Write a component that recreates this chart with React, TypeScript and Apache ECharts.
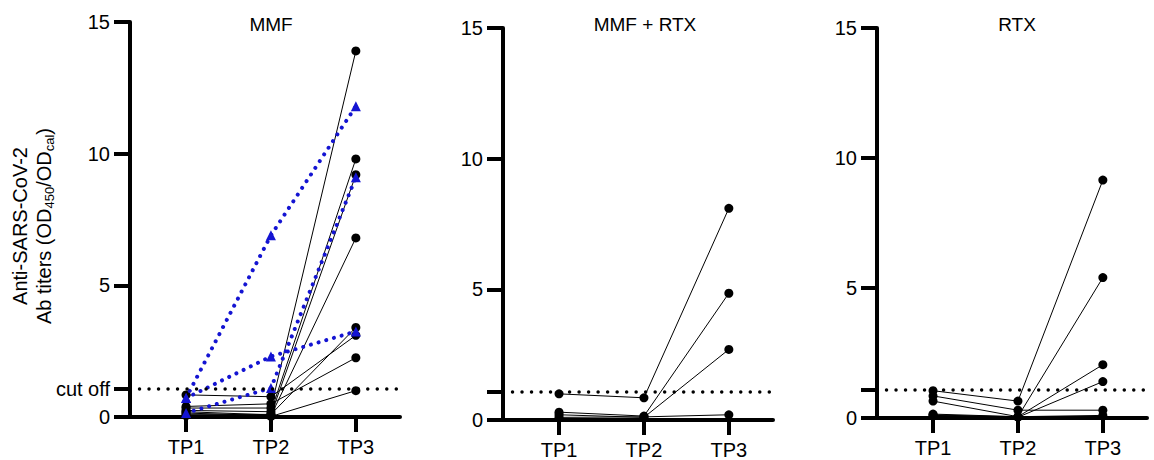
import React, { useEffect, useRef } from "react";
import * as echarts from "echarts";

// ---- data ----
const categories = ["TP1", "TP2", "TP3"];
const panelTitles = ["MMF", "MMF + RTX", "RTX"];
const cutoff = 1.07;
const cutoffLabel = "cut off";
const yTickValues = [0, 5, 10, 15];
const yNameLine1 = "Anti-SARS-CoV-2";
const yNameLine2 = ["Ab titers (OD", "450", "/OD", "cal", ")"];

// MMF panel: black subjects
const mmfBlack = [
  [0.84, 0.77, 3.1],
  [0.4, 0.5, 2.25],
  [0.34, 0.34, 13.9],
  [0.25, 0.2, 9.8],
  [0.2, 0.08, 9.2],
  [0.15, 0.05, 6.8],
  [0.1, 0.1, 3.4],
  [0.05, 0.02, 1.0],
];
// MMF panel: blue (dotted, triangles) subjects
const mmfBlue = [
  [0.72, 6.9, 11.8],
  [0.72, 2.3, 3.25],
  [0.15, 1.1, 9.1],
];
// MMF + RTX panel
const mmfRtx = [
  [1.0, 0.85, 8.1],
  [0.3, 0.15, 4.85],
  [0.2, 0.1, 2.7],
  [0.1, 0.12, 0.2],
];
// RTX panel
const rtx = [
  [1.05, 0.65, 9.15],
  [0.85, 0.3, 0.3],
  [0.65, 0.05, 5.4],
  [0.15, 0.05, 2.05],
  [0.12, 0.03, 1.4],
  [0.1, 0.05, 0.1],
];

const FONT = "Liberation Sans, Arial, sans-serif";
const BLUE = "#1414d2";

const grids = [
  { left: 130, top: 22, width: 270, height: 395 },
  { left: 503, top: 28, width: 270, height: 392 },
  { left: 877, top: 28, width: 270, height: 390 },
];

function toPoints(vals: number[]) {
  return vals.map((v, i) => [i + 1, v]);
}

export default function App() {
  const ref = useRef<HTMLDivElement>(null);
  useEffect(() => {
    if (!ref.current) return;
    const chart = echarts.init(ref.current, null, { renderer: "svg" });

    const xAxes = grids.map((_, i) => ({
      type: "value",
      gridIndex: i,
      min: 0.34,
      max: 3.52,
      axisLine: { onZero: false, lineStyle: { color: "#000", width: 4 } },
      axisTick: {
        customValues: [1, 2, 3],
        length: 15,
        lineStyle: { color: "#000", width: 4 },
      },
      axisLabel: {
        customValues: [1, 2, 3],
        formatter: (v: number) => categories[Math.round(v) - 1],
        fontSize: 20,
        color: "#000",
        margin: 20,
        fontFamily: FONT,
      },
      splitLine: { show: false },
    }));

    const yAxes = grids.map((_, i) => ({
      type: "value",
      gridIndex: i,
      min: 0,
      max: 15,
      axisLine: { show: true, onZero: false, lineStyle: { color: "#000", width: 4 } },
      axisTick: {
        show: true,
        customValues: [0, cutoff, 5, 10, 15],
        length: 16,
        lineStyle: { color: "#000", width: 4 },
      },
      axisLabel: {
        customValues: i === 0 ? [0, cutoff, ...yTickValues.slice(1)] : yTickValues,
        formatter: (v: number) => (Math.abs(v - cutoff) < 1e-6 ? cutoffLabel : String(v)),
        fontSize: 20,
        color: "#000",
        margin: 20,
        fontFamily: FONT,
      },
      splitLine: { show: false },
    }));

    const series: any[] = [];
    const cutoffMark = {
      silent: true,
      symbol: "none",
      label: { show: false },
      lineStyle: { type: [0.01, 9.5], cap: "round", width: 3.5, color: "#000" },
      data: [{ yAxis: cutoff }],
    };
    const blackSeries = (vals: number[], panel: number, idx: number) => ({
      type: "line",
      xAxisIndex: panel,
      yAxisIndex: panel,
      data: toPoints(vals),
      symbol: "circle",
      symbolSize: 9,
      itemStyle: { color: "#000" },
      lineStyle: { color: "#000", width: 1 },
      z: 3,
      markLine: idx === 0 ? cutoffMark : undefined,
    });
    mmfBlack.forEach((v, k) => series.push(blackSeries(v, 0, k)));
    mmfBlue.forEach((v) =>
      series.push({
        type: "line",
        xAxisIndex: 0,
        yAxisIndex: 0,
        data: toPoints(v),
        symbol: "triangle",
        symbolSize: 10,
        itemStyle: { color: BLUE },
        lineStyle: { color: BLUE, width: 4, type: [0.01, 8], cap: "round" },
        z: 4,
      })
    );
    mmfRtx.forEach((v, k) => series.push(blackSeries(v, 1, k)));
    rtx.forEach((v, k) => series.push(blackSeries(v, 2, k)));

    const titleXs = [271, 645, 1017];
    const graphic: any[] = panelTitles.map((t, i) => ({
      type: "text",
      x: titleXs[i],
      y: 24,
      style: {
        text: t,
        align: "center",
        verticalAlign: "middle",
        fontSize: 19,
        fontFamily: FONT,
        fill: "#000",
      },
    }));
    graphic.push({
      type: "text",
      x: 32,
      y: 226,
      rotation: Math.PI / 2,
      style: {
        text:
          `{a|${yNameLine1}}\n` +
          `{a|${yNameLine2[0]}}{s|${yNameLine2[1]}}{a|${yNameLine2[2]}}{s|${yNameLine2[3]}}{a|${yNameLine2[4]}}`,
        align: "center",
        verticalAlign: "middle",
        fill: "#000",
        rich: {
          a: { fontSize: 20, lineHeight: 24, fontFamily: FONT, fill: "#000" },
          s: { fontSize: 13, lineHeight: 12, verticalAlign: "bottom", fontFamily: FONT, fill: "#000" },
        },
      },
    });

    chart.setOption({
      animation: false,
      backgroundColor: "#fff",
      grid: grids,
      xAxis: xAxes,
      yAxis: yAxes,
      series,
      graphic,
    });
    return () => chart.dispose();
  }, []);

  return (
    <div
      ref={ref}
      style={{ position: "fixed", left: 0, top: 0, width: 1154, height: 460, background: "#fff" }}
    />
  );
}
